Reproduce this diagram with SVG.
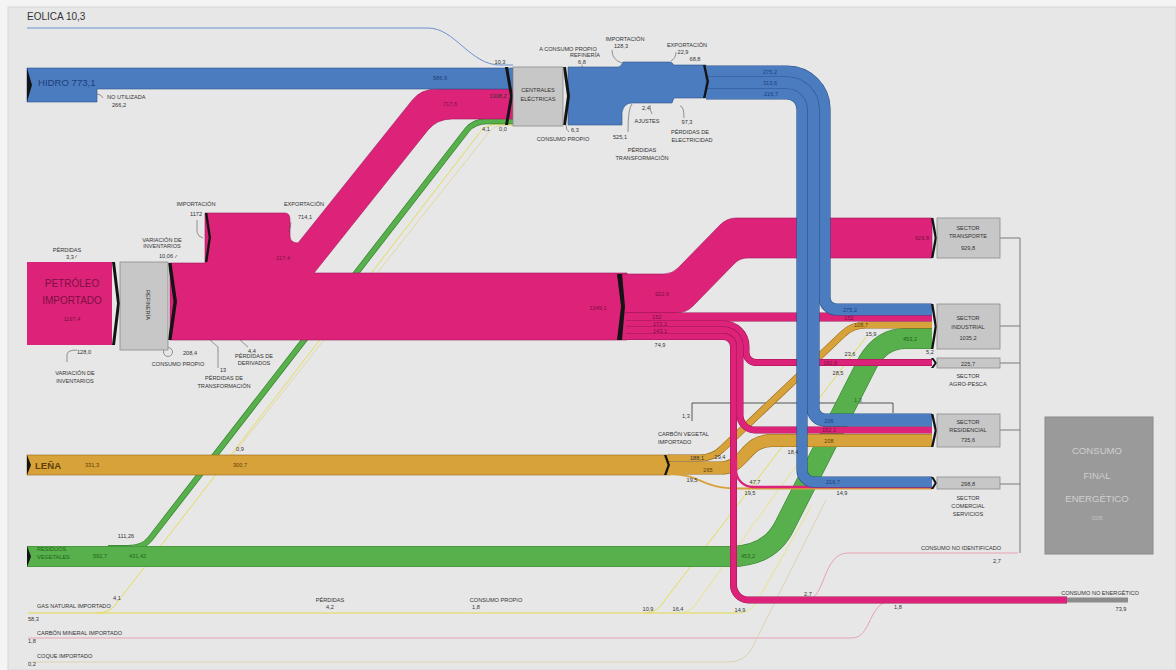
<svg xmlns="http://www.w3.org/2000/svg" width="1176" height="670" viewBox="0 0 1176 670">
<style>
text{font-family:"Liberation Sans",Arial,sans-serif;font-size:5.6px;fill:#333}
.c{text-anchor:middle}
.lead{fill:none;stroke:#555;stroke-width:.6}
.box{fill:#c7c7c7;stroke:#8c8c8c;stroke-width:.8}
.chev{fill:#141414}
.fl{fill:none;stroke-linecap:butt;stroke-linejoin:round}
.blue{stroke:#4b7cc0}.blue-e{stroke:#2b5089}
.pink{stroke:#dd2379}.pink-e{stroke:#9a1250}
.orng{stroke:#d8a23b}.orng-e{stroke:#96691a}
.grn{stroke:#58b04c}.grn-e{stroke:#3a8232}
.f-blue{fill:#4b7cc0;stroke:#2b5089;stroke-width:.6}
.f-pink{fill:#dd2379;stroke:#a0165a;stroke-width:.6}
.f-orng{fill:#d8a23b;stroke:#96691a;stroke-width:.6}
.ln{fill:none;stroke-width:1}
.db{fill:#1d3f7a}.dp{fill:#7c0f42}.do{fill:#5e3f05}.dg{fill:#1f6618}
.lbl{font-size:9.6px}
.fin{font-size:9.6px;fill:#cfcfcf}
</style>
<defs>
<path id="b1" d="M706,71.5 H787 A37.5,37.5 0 0 1 824.5,109 V297.5 A12,12 0 0 0 836.5,309.5 H932"/>
<path id="b2" d="M706,83 H787 A26,26 0 0 1 813,109 V408 A12,12 0 0 0 825,420 H932"/>
<path id="b3" d="M706,94 H787 A15,15 0 0 1 802,109 V470 A12,12 0 0 0 814,482 H932"/>
<path id="p1" d="M626,317 H932"/>
<path id="p2" d="M626,324 H723.5 A22.5,22.5 0 0 1 746,346.5 V352.5 A10,10 0 0 0 756,362.5 H932"/>
<path id="p3" d="M626,330 H723.5 A16.5,16.5 0 0 1 740,346.5 V415 A15,15 0 0 0 755,430 H932"/>
<path id="p4" d="M626,336.5 H723.5 A10,10 0 0 1 733.5,346.5 V585 A15,15 0 0 0 748.5,600 H1067"/>
<path id="o1" d="M668,458 H700 Q713,458 722,449 L843,334 Q852,325 866,325 H932"/>
<path id="o2" d="M668,468 H720 C746,468 744,440.5 772,440.5 H932"/>
<path id="g1" d="M27,556.5 H730 Q770,556.5 785,525 L868,362 Q882,338.5 905,338.5 H932"/>
</defs>

<!-- page and panel -->
<rect x="0" y="0" width="1176" height="670" fill="#f4f4f4"/>
<rect x="8" y="7" width="1168" height="663" fill="#e7e7e7" stroke="#d6d6d6" stroke-width="1"/>

<g id="connectors">
  <!-- thin carriers -->
  <path class="ln" stroke="#6d8fcf" stroke-width="1.2" d="M27,28 H428 C455,28 470,65 500,65 H513"/>
  <path class="ln" stroke="#e2da4a" stroke-width="2.4" d="M28,613 H738"/>
  <path class="ln" stroke="#e4dc5a" stroke-width="1.2" d="M96,613 Q110,613 116,604 L481,131 Q487,124.3 497,124.3 H513"/>
  <path class="ln" stroke="#e3d7a6" stroke-width="1" d="M232,456 L489,132 Q494,125.5 503,125.5 H513"/>
  <path class="ln" stroke="#e4dc5a" stroke-width="1" d="M645,613 Q656,613 662,604 L866,337"/>
  <path class="ln" stroke="#e8e38a" stroke-width="1" d="M679,613 Q690,613 696,604 L858,380"/>
  <path class="ln" stroke="#e8e38a" stroke-width="1" d="M738,613 Q750,613 756,603 L812,505"/>
  <path class="ln" stroke="#e6a3b3" stroke-width="1" d="M28,638 H852 C872,638 868,601 892,601 H900"/>
  <path class="ln" stroke="#dcd3b2" stroke-width="1" d="M28,662 H728 Q745,662 752,648 L826,500"/>
  <path class="ln" stroke="#e6a3b3" stroke-width="1" d="M806,600 C826,600 822,553 848,553 H1018"/>
  <path class="ln" stroke="#555" stroke-width=".7" d="M692,421 V403 H893 V413"/>

  <!-- residuos vegetales -->
  <path class="fl" stroke="#3a8232" stroke-width="6" d="M108,548 H128 Q143,548 150,539 L467,130 Q474,121.2 487,121.2 H513"/>
  <path class="fl grn" stroke-width="4.6" d="M108,548 H128 Q143,548 150,539 L467,130 Q474,121.2 487,121.2 H513"/>
  <use href="#g1" class="fl grn-e" stroke-width="21.2"/>
  <use href="#g1" class="fl grn" stroke-width="20"/>

  <!-- leña -->
  <rect x="27" y="455" width="643" height="20" class="f-orng"/>
  <use href="#o1" class="fl orng-e" stroke-width="7.2"/>
  <use href="#o1" class="fl orng" stroke-width="6"/>
  <use href="#o2" class="fl orng-e" stroke-width="13.2"/>
  <use href="#o2" class="fl orng" stroke-width="12"/>
  <path class="fl orng" stroke-width="2" d="M668,474 C702,474 700,488.5 738,488.5 H932"/>

  <!-- petróleo and derivados -->
  <path class="f-pink" d="M170,263 H205 V213 H285 Q290,213 290,220 V236 Q290,243 298,243 L412.4,100 Q421,89 437,89 H513 V119 H452 Q437,119 428,130 L314,273 H627 V340 H170 Z"/>
  <path class="f-pink" d="M622,274 H664 Q672,274 678,268 L720,225 Q727,218 736,218 H932 V258 H748 Q740,258 735,263 L693,306 Q686,313 676,313 H622 Z"/>
  <use href="#p1" class="fl pink-e" stroke-width="9"/>
  <use href="#p1" class="fl pink" stroke-width="8"/>
  <use href="#p2" class="fl pink-e" stroke-width="7"/>
  <use href="#p2" class="fl pink" stroke-width="6"/>
  <use href="#p3" class="fl pink-e" stroke-width="7"/>
  <use href="#p3" class="fl pink" stroke-width="6"/>
  <use href="#p4" class="fl pink-e" stroke-width="7"/>
  <use href="#p4" class="fl pink" stroke-width="6"/>
  <path class="fl pink" stroke-width="2.4" d="M736,458 V470 A17,17 0 0 0 753,487 H932"/>
  <rect x="1067" y="597.5" width="61" height="5" fill="#8c8c8c"/>

  <!-- electricidad -->
  <path class="f-blue" d="M27,68 H513 V89 H97 V102 H27 Z"/>
  <path class="f-blue" d="M568,67 H618 Q621,67 623,62 H670 Q672,62 674,65 H706 V98 H674 L672,103 H632 Q624,103 622,112 V125 H568 Z"/>
  <use href="#b1" class="fl blue-e" stroke-width="12.2"/>
  <use href="#b1" class="fl blue" stroke-width="11"/>
  <use href="#b2" class="fl blue-e" stroke-width="13.2"/>
  <use href="#b2" class="fl blue" stroke-width="12"/>
  <use href="#b3" class="fl blue-e" stroke-width="11.2"/>
  <use href="#b3" class="fl blue" stroke-width="10"/>

  <!-- sector links -->
  <path class="ln" stroke="#7a7a7a" stroke-width="1" d="M1000,238 H1020 M1000,326 H1020 M1000,363 H1020 M1000,430 H1020 M1000,484 H1020 M1020,238 V553"/>

  <!-- junction chevrons -->
  <path class="chev" d="M27,68 L32,85 L27,102 Z M27,262 L35,303.5 L27,345 Z M27,455 L31,465 L27,475 Z M27,546 L31,556.5 L27,567 Z"/>
  <path class="chev" d="M505,67 h3 L513,96 L508,125 H505 L510,96 Z M563,67 h3 L570,96 L566,125 H563 L567,96 Z M703,65 h2.4 L709,81.5 L705.4,98 H703 L706.6,81.5 Z"/>
  <path class="chev" d="M617,274 h5 L625,306.5 L622,340 H617 L621,306.5 Z M168,263 h3.5 L177,301.5 L171.5,340 H168 L173.5,301.5 Z M112,262 h3 L120,303.5 L115,345 H112 L117,303.5 Z M205,213 h2.4 L211,237.5 L207.4,262 H205 L208.6,237.5 Z M664,455 h2.4 L670,465 L666.4,475 H664 L667.6,465 Z"/>
  <path class="chev" d="M931,218 h2.4 L937,238 L933.4,258 H931 L934.6,238 Z M931,304 h2.4 L937,326.5 L933.4,349 H931 L934.6,326.5 Z M931,358 h2.4 L937,363 L933.4,368 H931 L934.6,363 Z M931,414 h2.4 L937,430.5 L933.4,447 H931 L934.6,430.5 Z M931,477 h2.4 L937,483 L933.4,489 H931 L934.6,483 Z"/>

  <!-- leaders -->
  <path class="lead" d="M97,94 Q101,94 103,98 M75,258 l2,-3 M175,258 l2,-3 M197,220 V232 Q198,237 203,238 M291,222 Q291,229 288,232 M67,362 V354 Q68,350 77,350 M210,340 L218,347 V368 M240,340 L248,347 M582,65 V67 M612,50 Q612,60 622,63 M676,52 Q676,58 671,61 M650,105 Q650,111 652,114 M680,106 Q684,106 684,118 M632,104 Q628,108 628,132 M566,125 Q566,130 569,132"/>
  <circle cx="168" cy="352" r="4.5" class="lead"/>
</g>

<g id="node-eolica"><text x="27" y="20" style="font-size:10px">EOLICA 10,3</text></g>
<g id="node-hidro">
  <text x="38" y="86" class="lbl db">HIDRO 773,1</text>
  <text x="107" y="99">NO UTILIZADA</text><text x="112" y="107">266,2</text>
</g>
<g id="node-centrales">
  <rect x="513" y="67" width="50" height="59" class="box"/>
  <text x="538" y="92" class="c">CENTRALES</text><text x="538" y="101" class="c">ELÉCTRICAS</text>
  <text x="500" y="64" class="c">10,3</text>
  <text x="440" y="80" class="c db">586,9</text>
  <text x="498" y="98" class="c">1308,2</text>
  <text x="450" y="106" class="c dp">717,6</text>
  <text x="486" y="131" class="c">4,1</text><text x="503" y="131" class="c">0,0</text>
  <text x="568" y="51" class="c">A CONSUMO PROPIO</text><text x="585" y="57" class="c">REFINERÍA</text><text x="582" y="64" class="c">6,8</text>
  <text x="625" y="41" class="c">IMPORTACIÓN</text><text x="621" y="48" class="c">128,3</text>
  <text x="687" y="47" class="c">EXPORTACIÓN</text><text x="683" y="54" class="c">22,9</text><text x="695" y="61" class="c">68,8</text>
  <text x="642" y="110">2,4</text><text x="647" y="123" class="c">AJUSTES</text>
  <text x="687" y="124" class="c">97,3</text><text x="690" y="134" class="c">PÉRDIDAS DE</text><text x="692" y="142" class="c">ELECTRICIDAD</text>
  <text x="571" y="132">6,3</text><text x="563" y="141" class="c">CONSUMO PROPIO</text>
  <text x="620" y="139" class="c">525,1</text><text x="642" y="152" class="c">PÉRDIDAS</text><text x="642" y="160" class="c">TRANSFORMACIÓN</text>
  <text x="770" y="73.5" class="c db">275,2</text><text x="770" y="85" class="c db">313,6</text><text x="771" y="96" class="c db">216,7</text>
</g>
<g id="node-petroleo">
  <rect x="27" y="262" width="85" height="83" fill="#dd2379"/>
  <text x="72" y="287" class="c dp" style="font-size:10px">PETRÓLEO</text>
  <text x="72" y="304" class="c dp" style="font-size:10px">IMPORTADO</text>
  <text x="72" y="321" class="c dp">1167,4</text>
  <text x="67" y="252" class="c">PÉRDIDAS</text><text x="70" y="259" class="c">3,3</text>
  <text x="84" y="354" class="c">128,0</text>
  <text x="75" y="375" class="c">VARIACIÓN DE</text><text x="75" y="383" class="c">INVENTARIOS</text>
</g>
<g id="node-refineria">
  <rect x="120" y="262" width="48" height="88" class="box"/>
  <text transform="translate(146,305) rotate(90)" class="c">REFINERÍA</text>
  <text x="162" y="242" class="c">VARIACIÓN DE</text><text x="162" y="248" class="c">INVENTARIOS</text><text x="166" y="258" class="c">10,06</text>
  <text x="196" y="206" class="c">IMPORTACIÓN</text><text x="196" y="216" class="c">1172</text>
  <text x="304" y="206" class="c">EXPORTACIÓN</text><text x="305" y="219" class="c">714,1</text>
  <text x="283" y="260" class="c dp">217,4</text>
  <text x="183" y="355">208,4</text><text x="178" y="366" class="c">CONSUMO PROPIO</text>
  <text x="220" y="372">13</text><text x="224" y="380" class="c">PÉRDIDAS DE</text><text x="224" y="388" class="c">TRANSFORMACIÓN</text>
  <text x="248" y="353">4,4</text><text x="254" y="358" class="c">PÉRDIDAS DE</text><text x="254" y="365" class="c">DERIVADOS</text>
  <text x="598" y="310" class="c dp">1349,1</text>
  <text x="662" y="296" class="c dp">922,6</text>
  <text x="657" y="319" class="c dp">152</text><text x="660" y="325.5" class="c dp">172,2</text><text x="660" y="332.5" class="c dp">143,1</text><text x="660" y="347" class="c">74,9</text>
</g>
<g id="node-lena">
  <text x="35" y="469" class="do" style="font-size:9.6px;font-weight:bold">LEÑA</text>
  <text x="85" y="467" class="do">331,3</text>
  <text x="240" y="451" class="c">0,9</text><text x="240" y="467" class="c do">300,7</text>
  <text x="658" y="436">CARBÓN VEGETAL</text><text x="658" y="444">IMPORTADO</text>
  <text x="682" y="418">1,3</text>
  <text x="697" y="460" class="c">188,1</text><text x="720" y="459" class="c">29,4</text>
  <text x="708" y="472" class="c do">265</text><text x="692" y="482" class="c">19,5</text>
  <text x="793" y="454" class="c">18,4</text>
  <text x="755" y="484" class="c">47,7</text><text x="750" y="495" class="c">19,5</text>
</g>
<g id="node-residuos">
  <text x="37" y="551" class="dg">RESIDUOS</text><text x="37" y="559" class="dg">VEGETALES</text>
  <text x="93" y="558" class="dg">592,7</text><text x="129" y="558" class="dg">431,42</text>
  <text x="126" y="538" class="c">111,26</text>
  <text x="748" y="558" class="c dg">453,2</text>
  <text x="858" y="402" class="c dg">1,3</text>
</g>
<g id="node-gas">
  <text x="37" y="608">GAS NATURAL IMPORTADO</text><text x="28" y="621">58,3</text>
  <text x="117" y="600" class="c">4,1</text>
  <text x="330" y="602" class="c">PÉRDIDAS</text><text x="330" y="609" class="c">4,2</text>
  <text x="496" y="602" class="c">CONSUMO PROPIO</text><text x="476" y="609" class="c">1,8</text>
  <text x="648" y="611" class="c">10,9</text><text x="678" y="611" class="c">16,4</text><text x="740" y="612" class="c">14,9</text>
</g>
<g id="node-carbon"><text x="37" y="635">CARBÓN MINERAL IMPORTADO</text><text x="28" y="643">1,8</text><text x="898" y="609" class="c">1,8</text></g>
<g id="node-coque"><text x="37" y="658">COQUE IMPORTADO</text><text x="28" y="666">0,2</text></g>
<g id="node-transporte">
  <rect x="937" y="218" width="63" height="40" class="box"/>
  <text x="968" y="230" class="c">SECTOR</text><text x="968" y="238" class="c">TRANSPORTE</text><text x="968" y="250" class="c">929,8</text>
  <text x="922" y="240" class="c dp">929,8</text>
</g>
<g id="node-industrial">
  <rect x="937" y="304" width="63" height="45" class="box"/>
  <text x="968" y="320" class="c">SECTOR</text><text x="968" y="329" class="c">INDUSTRIAL</text><text x="968" y="340" class="c">1035,2</text>
  <text x="850" y="311.5" class="c db">275,2</text><text x="849" y="319.5" class="c dp">152</text>
  <text x="861" y="327" class="c do">108,7</text><text x="871" y="336" class="c">15,9</text>
  <text x="910" y="341" class="c dg">453,2</text><text x="850" y="356" class="c">23,6</text><text x="930" y="354" class="c">5,2</text>
</g>
<g id="node-agro">
  <rect x="937" y="358" width="63" height="10" class="box"/>
  <text x="968" y="365.5" class="c">225,7</text>
  <text x="968" y="378" class="c">SECTOR</text><text x="968" y="386" class="c">AGRO-PESCA</text>
  <text x="830" y="364.5" class="c dp">182,8</text><text x="838" y="375" class="c">28,5</text>
</g>
<g id="node-residencial">
  <rect x="937" y="414" width="63" height="33" class="box"/>
  <text x="968" y="424" class="c">SECTOR</text><text x="968" y="432" class="c">RESIDENCIAL</text><text x="968" y="442" class="c">735,6</text>
  <text x="829" y="422.5" class="c db">206</text><text x="829" y="432" class="c dp">152,1</text><text x="829" y="443" class="c do">208</text>
</g>
<g id="node-comercial">
  <rect x="937" y="477" width="63" height="12" class="box"/>
  <text x="968" y="485.5" class="c">298,8</text>
  <text x="968" y="500" class="c">SECTOR</text><text x="968" y="508" class="c">COMERCIAL</text><text x="968" y="516" class="c">SERVICIOS</text>
  <text x="833" y="484" class="c db">216,7</text><text x="842" y="495" class="c">14,9</text>
</g>
<g id="node-consumo-final">
  <rect x="1045" y="417" width="108" height="137" fill="#9a9a9a" stroke="#8a8a8a"/>
  <text x="1097" y="454" class="c fin">CONSUMO</text><text x="1097" y="479" class="c fin">FINAL</text>
  <text x="1097" y="502" class="c fin">ENERGÉTICO</text><text x="1097" y="520" class="c" style="fill:#c4c4c4;font-size:5px">3335</text>
</g>
<g id="node-no-identificado"><text x="961" y="550" class="c">CONSUMO NO IDENTIFICADO</text><text x="808" y="596" class="c">2,7</text><text x="997" y="563" class="c">2,7</text></g>
<g id="node-no-energetico"><text x="1100" y="595" class="c">CONSUMO NO ENERGÉTICO</text><text x="1121" y="611" class="c">73,9</text></g>
</svg>
